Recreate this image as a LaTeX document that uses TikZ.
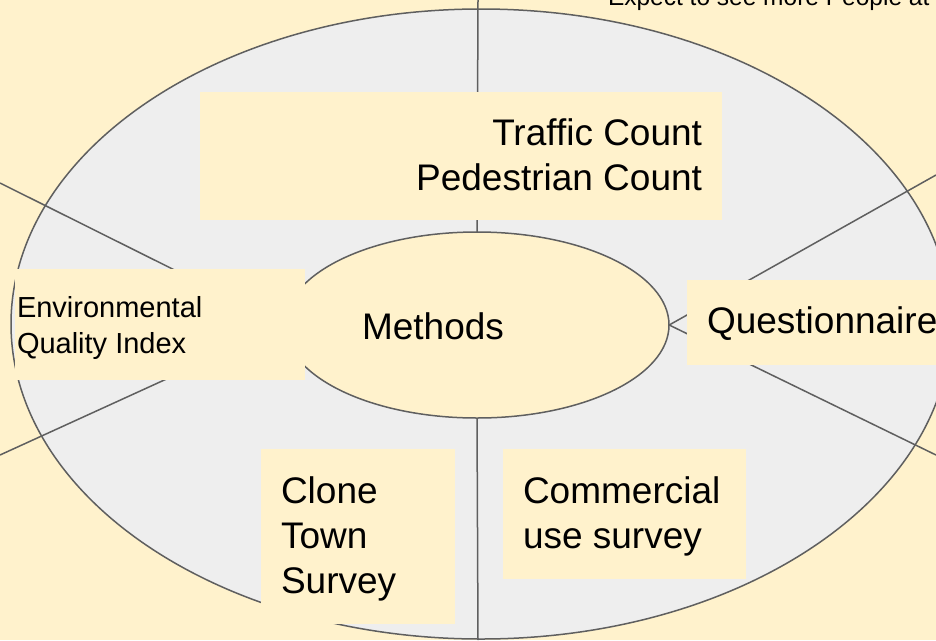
\documentclass[tikz,border=0pt]{standalone}
\usepackage{fontspec}
\setmainfont{Liberation Sans}
\usetikzlibrary{shapes.geometric}
\definecolor{bgyel}{HTML}{FFF2CC}
\definecolor{ringgrey}{HTML}{EEEEEE}
\definecolor{edgegrey}{HTML}{5F5F5F}
\begin{document}
\begin{tikzpicture}[x=1pt,y=-1pt,
  outline/.style={draw=edgegrey, line width=1.5pt},
  spoke/.style={draw=edgegrey, line width=1.5pt},
  box/.style={fill=bgyel, draw=none, inner sep=0pt, outer sep=0pt, anchor=north west},
  bigtext/.style={font=\fontsize{37}{45}\selectfont, inner sep=0pt, outer sep=0pt},
  midtext/.style={font=\fontsize{29}{36}\selectfont, inner sep=0pt, outer sep=0pt},
  smalltext/.style={font=\fontsize{24.5}{29}\selectfont, inner sep=0pt, outer sep=0pt}]
\useasboundingbox (0,0) rectangle (936,640);
\clip (0,0) rectangle (936,640);
\fill[bgyel] (0,0) rectangle (936,640);

% outer ring
\node[ellipse, outline, fill=ringgrey, minimum width=940pt, minimum height=630pt, inner sep=0pt] (ring) at (481,324) {};

% free ends of the spokes
\coordinate (topend) at (478,0);
\coordinate (botend) at (478,640);
\coordinate (ulend) at (0,183);
\coordinate (llend) at (0,455);
\coordinate (urend) at (936,175);
\coordinate (lrend) at (936,455);

% inner ellipse (position only, drawn after spokes)
\path (477,325) node[ellipse, minimum width=384pt, minimum height=186pt, inner sep=0pt] (methodsshape) {};

\draw[spoke] (methodsshape.north) -- (topend);
\draw[spoke] (methodsshape.south) -- (botend);
\draw[spoke] (methodsshape.west) -- (ulend);
\draw[spoke] (methodsshape.west) -- (llend);
\draw[spoke] (methodsshape.east) -- (urend);
\draw[spoke] (methodsshape.east) -- (lrend);

\node[ellipse, outline, fill=bgyel, minimum width=384pt, minimum height=186pt, inner sep=0pt] (inner) at (477,325) {};

% boxes
\node[box, minimum width=522pt, minimum height=128pt] (trafficbox) at (200,92) {};
\node[box, minimum width=290pt, minimum height=111pt] (envbox) at (15,269) {};
\node[box, minimum width=260pt, minimum height=85pt] (questbox) at (687,280) {};
\node[box, minimum width=194pt, minimum height=175pt] (clonebox) at (261,449) {};
\node[box, minimum width=243pt, minimum height=130pt] (commbox) at (503,449) {};

% texts (base anchor of a multi-line node = baseline of its last line)
\node[smalltext, anchor=base west] (expect) at (608,5) {Expect to see more People at};
\node[bigtext, anchor=base east, align=right] (traffic) at (702,190) {Traffic Count\\Pedestrian Count};
\node[bigtext, anchor=base west] (methods) at (362,339) {Methods};
\node[midtext, anchor=base west, align=left] (env) at (17,353) {Environmental\\Quality Index};
\node[bigtext, anchor=base west] (quest) at (707,333) {Questionnaire};
\node[bigtext, anchor=base west, align=left] (clone) at (281,593) {Clone\\Town\\Survey};
\node[bigtext, anchor=base west, align=left] (comm) at (523,548) {Commercial\\use survey};
\end{tikzpicture}
\end{document}
